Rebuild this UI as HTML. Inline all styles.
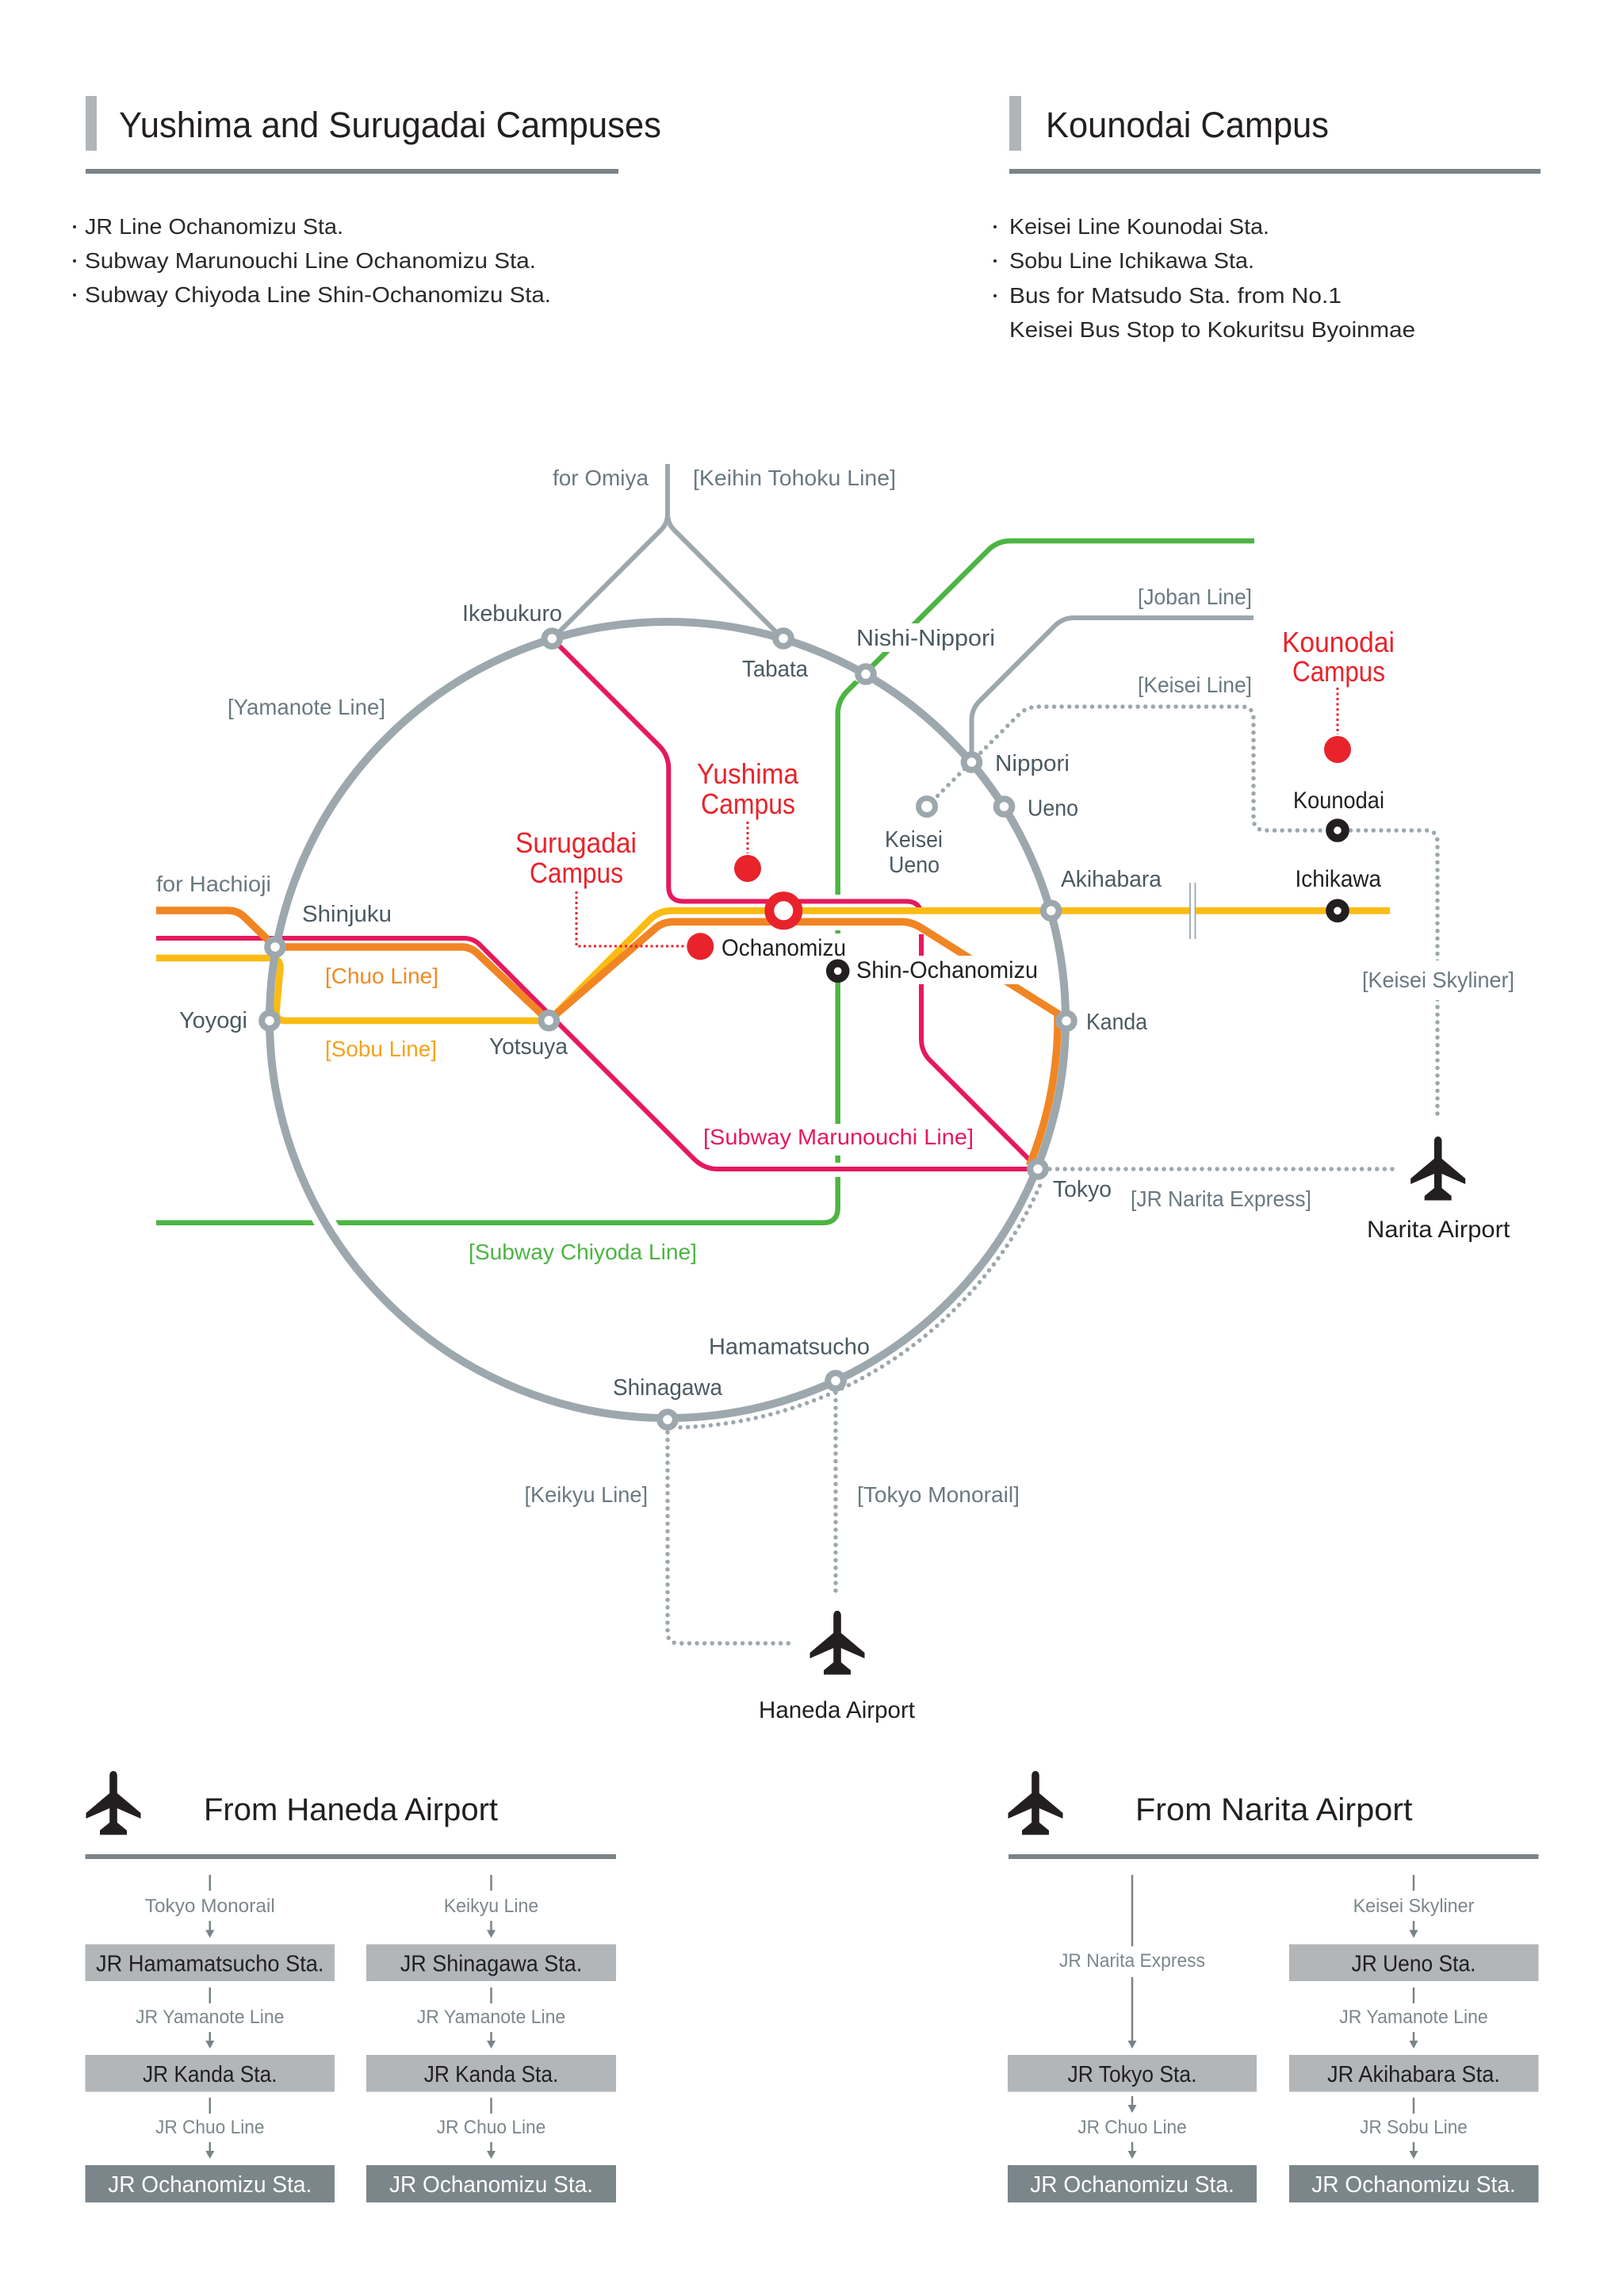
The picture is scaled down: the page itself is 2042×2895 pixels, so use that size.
<!DOCTYPE html>
<html><head><meta charset="utf-8">
<style>
html,body{margin:0;padding:0;background:#fff;}
svg{display:block;}
text{font-family:"Liberation Sans",sans-serif;}
.h1{font-size:45px;fill:#231f20;}
.b{font-size:28px;fill:#2a2a2a;}
.st{font-size:29px;fill:#4b5a61;}
.br{font-size:28px;fill:#6a7980;}
.rd{font-size:36px;fill:#e8232b;}
.bk{font-size:30px;fill:#231f20;}
.h2{font-size:40px;fill:#231f20;}
.bx{font-size:29px;fill:#231f20;}
.bw{font-size:29px;fill:#ffffff;}
.sm{font-size:24px;fill:#7d878c;}
.dot{fill:none;stroke:#9ca8ad;stroke-width:5.5;stroke-dasharray:0 9.6;stroke-linecap:round;}
.rdot{fill:none;stroke:#e8232b;stroke-width:3;stroke-dasharray:3 3.5;}
.gs{fill:#fff;stroke:#9ca8ad;stroke-width:8;}
.bs{fill:#fff;stroke:#231f20;stroke-width:10;}
.cn{stroke:#7a8488;stroke-width:2.5;fill:none;}
.ah{fill:#7a8488;}
</style></head>
<body>
<svg width="2042" height="2895" viewBox="0 0 2042 2895" xmlns="http://www.w3.org/2000/svg">
<defs>
<path id="plane" d="M0 0 C3 0 4.8 2.5 4.8 6 L4.8 28 L34.5 53 L34.5 60 L4.8 47 L4.8 65 L17 75 L17 80.5 L-17 80.5 L-17 75 L-4.8 65 L-4.8 47 L-34.5 60 L-34.5 53 L-4.8 28 L-4.8 6 C-4.8 2.5 -3 0 0 0 Z" fill="#231f20"/>
</defs>
<rect width="2042" height="2895" fill="#fff"/>

<!-- Headers -->
<rect x="108" y="121" width="14" height="69" fill="#b1b5b8"/>
<text x="150" y="173" class="h1" textLength="684" lengthAdjust="spacingAndGlyphs">Yushima and Surugadai Campuses</text>
<rect x="108" y="213" width="672" height="6" fill="#7a8488"/>
<rect x="1273" y="121" width="15" height="69" fill="#b1b5b8"/>
<text x="1319" y="173" class="h1" textLength="357" lengthAdjust="spacingAndGlyphs">Kounodai Campus</text>
<rect x="1273" y="213" width="670" height="6" fill="#7a8488"/>

<circle cx="94" cy="286" r="2" fill="#2a2a2a"/>
<circle cx="94" cy="329" r="2" fill="#2a2a2a"/>
<circle cx="94" cy="372" r="2" fill="#2a2a2a"/>
<text x="107" y="295" class="b" textLength="326" lengthAdjust="spacingAndGlyphs">JR Line Ochanomizu Sta.</text>
<text x="107" y="338" class="b" textLength="569" lengthAdjust="spacingAndGlyphs">Subway Marunouchi Line Ochanomizu Sta.</text>
<text x="107" y="381" class="b" textLength="588" lengthAdjust="spacingAndGlyphs">Subway Chiyoda Line Shin-Ochanomizu Sta.</text>

<circle cx="1255" cy="286" r="2" fill="#2a2a2a"/>
<circle cx="1255" cy="329" r="2" fill="#2a2a2a"/>
<circle cx="1255" cy="373" r="2" fill="#2a2a2a"/>
<text x="1273" y="295" class="b" textLength="328" lengthAdjust="spacingAndGlyphs">Keisei Line Kounodai Sta.</text>
<text x="1273" y="338" class="b" textLength="309" lengthAdjust="spacingAndGlyphs">Sobu Line Ichikawa Sta.</text>
<text x="1273" y="382" class="b" textLength="419" lengthAdjust="spacingAndGlyphs">Bus for Matsudo Sta. from No.1</text>
<text x="1273" y="425" class="b" textLength="512" lengthAdjust="spacingAndGlyphs">Keisei Bus Stop to Kokuritsu Byoinmae</text>

<!-- MAP -->
<path d="M1582 682 H1275 Q1258 682 1246 694 L1068.7 871.3 Q1056.7 883.3 1056.7 900 V1523 Q1056.7 1541.7 1038 1541.7 H197" fill="none" stroke="#4db543" stroke-width="6.5"/>
<circle cx="842" cy="1286" r="502" fill="none" stroke="#fff" stroke-width="26"/>
<rect x="1049" y="1128" width="15" height="45" fill="#fff"/>
<rect x="1049" y="1466" width="15" height="18" fill="#fff"/>

<path d="M842 585 V648 Q842 660 833.5 668.5 L696 806 M842 648 Q842 660 850.5 668.5 L988 806" fill="none" stroke="#9ca8ad" stroke-width="6"/>
<path d="M1225.5 961 V908 Q1225.5 894 1235.5 884 L1330.5 789 Q1340.5 779 1355 779 H1581" fill="none" stroke="#9ca8ad" stroke-width="6"/>

<path d="M197 1183 H585 Q597 1183 605.5 1191.5 L875 1461 Q888 1474 905 1474 H1309" fill="none" stroke="#e5195e" stroke-width="6"/>
<path d="M696 805 L831 940 Q843.3 952.3 843.3 969 V1118 Q843.3 1136.5 862 1136.5 H1143 Q1162 1136.5 1162 1156 V1310 Q1162 1326 1173 1337 L1309 1473" fill="none" stroke="#e5195e" stroke-width="6"/>
<rect x="1156" y="1152" width="12" height="26" fill="#fff"/>

<path d="M197 1208 H342 Q353 1208 353.5 1220 L348.5 1276 Q348.5 1287 360 1287 H692 L819 1160 Q830.7 1148.3 847 1148.3 H1753" fill="none" stroke="#fcbb13" stroke-width="8.6"/>
<path d="M197 1148 H288 Q300 1148 309 1157 L347 1194 H582 Q594 1194 603 1203 L692 1287 L826 1171 Q836 1162.3 850 1162.3 H1137 Q1150 1162.3 1162 1170 L1334 1278 A492 492 0 0 1 1298.4 1469.7" fill="none" stroke="#f18523" stroke-width="9.5"/>

<rect x="1502" y="1140" width="4.5" height="17" fill="#fff"/>
<line x1="1501" y1="1113" x2="1501" y2="1184" stroke="#9ca8ad" stroke-width="1.8"/>
<line x1="1507.5" y1="1113" x2="1507.5" y2="1184" stroke="#9ca8ad" stroke-width="1.8"/>

<circle cx="842" cy="1286" r="502" fill="none" stroke="#9ca8ad" stroke-width="10"/>

<path class="dot" d="M1169 1017 L1285 901 Q1295 891 1310 891 H1566 Q1581 891 1581 906 V1032 Q1581 1047 1596 1047 H1798 Q1813 1047 1813 1062 V1408"/>
<path class="dot" d="M1324 1474 H1756"/>
<path class="dot" d="M1311.6 1495.1 A514 514 0 0 1 857 1799.8"/>
<path class="dot" d="M842 1806 V2058 Q842 2072 856 2072 H999"/>
<path class="dot" d="M1054 1756 V2006"/>

<path class="rdot" d="M1687 867 V926"/>
<path class="rdot" d="M943 1036 V1076"/>
<path class="rdot" d="M727 1124 V1193 H866"/>

<!-- white label backgrounds -->
<rect x="1075" y="1205" width="238" height="36" fill="#fff"/>
<rect x="905" y="1177" width="166" height="33" fill="#fff"/>
<rect x="884" y="1417" width="348" height="40" fill="#fff"/>
<rect x="1714" y="1211" width="200" height="50" fill="#fff"/>
<rect x="1076" y="786" width="184" height="36" fill="#fff"/>

<!-- stations -->
<circle class="gs" cx="696.3" cy="805.2" r="9.8"/>
<circle class="gs" cx="988" cy="805" r="9.8"/>
<circle class="gs" cx="1092" cy="850" r="9.8"/>
<circle class="gs" cx="1225.5" cy="961" r="9.8"/>
<circle class="gs" cx="1266.5" cy="1017" r="9.8"/>
<circle class="gs" cx="1325.7" cy="1148.3" r="9.8"/>
<circle class="gs" cx="1345" cy="1287.3" r="9.8"/>
<circle class="gs" cx="1309" cy="1474" r="9.8"/>
<circle class="gs" cx="1054" cy="1741" r="9.8"/>
<circle class="gs" cx="842" cy="1790" r="9.8"/>
<circle class="gs" cx="340" cy="1287" r="9.8"/>
<circle class="gs" cx="347" cy="1194" r="9.8"/>
<circle class="gs" cx="692.3" cy="1286.7" r="9.8"/>
<circle class="gs" cx="1169" cy="1017" r="10.5" style="stroke-width:7"/>
<circle class="bs" cx="1687" cy="1047" r="9.8"/>
<circle class="bs" cx="1687" cy="1148.3" r="9.8"/>
<circle class="bs" cx="1056.7" cy="1224.3" r="9.8"/>
<circle cx="988.3" cy="1148.3" r="18" fill="#fff" stroke="#e8232b" stroke-width="12"/>

<circle cx="1687" cy="945" r="17" fill="#e8232b"/>
<circle cx="943" cy="1095" r="17" fill="#e8232b"/>
<circle cx="883.3" cy="1193.3" r="17" fill="#e8232b"/>

<use href="#plane" transform="translate(1813.7 1433)"/>
<use href="#plane" transform="translate(1056 2031)"/>
<use href="#plane" transform="translate(143 2233)"/>
<use href="#plane" transform="translate(1306 2233)"/>

<text x="697" y="612" class="br" textLength="121" lengthAdjust="spacingAndGlyphs">for Omiya</text>
<text x="874" y="612" class="br" textLength="256" lengthAdjust="spacingAndGlyphs">[Keihin Tohoku Line]</text>
<text x="583" y="783" class="st" textLength="126" lengthAdjust="spacingAndGlyphs">Ikebukuro</text>
<text x="936" y="853" class="st" textLength="83" lengthAdjust="spacingAndGlyphs">Tabata</text>
<text x="287" y="901" class="br" textLength="199" lengthAdjust="spacingAndGlyphs">[Yamanote Line]</text>
<text x="1080" y="814" class="st" textLength="175" lengthAdjust="spacingAndGlyphs">Nishi-Nippori</text>
<text x="1435" y="762" class="br" textLength="144" lengthAdjust="spacingAndGlyphs">[Joban Line]</text>
<text x="1435" y="873" class="br" textLength="144" lengthAdjust="spacingAndGlyphs">[Keisei Line]</text>
<text x="1617" y="822" class="rd" textLength="142" lengthAdjust="spacingAndGlyphs">Kounodai</text>
<text x="1630" y="859" class="rd" textLength="117" lengthAdjust="spacingAndGlyphs">Campus</text>
<text x="879" y="988" class="rd" textLength="128" lengthAdjust="spacingAndGlyphs">Yushima</text>
<text x="884" y="1026" class="rd" textLength="119" lengthAdjust="spacingAndGlyphs">Campus</text>
<text x="650" y="1075" class="rd" textLength="153" lengthAdjust="spacingAndGlyphs">Surugadai</text>
<text x="668" y="1113" class="rd" textLength="118" lengthAdjust="spacingAndGlyphs">Campus</text>
<text x="1255" y="972" class="st" textLength="94" lengthAdjust="spacingAndGlyphs">Nippori</text>
<text x="1296" y="1028.5" class="st" textLength="64" lengthAdjust="spacingAndGlyphs">Ueno</text>
<text x="1116" y="1068" class="st" textLength="73" lengthAdjust="spacingAndGlyphs">Keisei</text>
<text x="1121" y="1100" class="st" textLength="64" lengthAdjust="spacingAndGlyphs">Ueno</text>
<text x="1631" y="1019" class="bk" textLength="115" lengthAdjust="spacingAndGlyphs">Kounodai</text>
<text x="1338" y="1118" class="st" textLength="127" lengthAdjust="spacingAndGlyphs">Akihabara</text>
<text x="1633.5" y="1118" class="bk" textLength="108.5" lengthAdjust="spacingAndGlyphs">Ichikawa</text>
<text x="197" y="1124" class="br" textLength="145" lengthAdjust="spacingAndGlyphs">for Hachioji</text>
<text x="381" y="1162" class="st" textLength="113" lengthAdjust="spacingAndGlyphs">Shinjuku</text>
<text x="910" y="1205" class="bk" textLength="157" lengthAdjust="spacingAndGlyphs">Ochanomizu</text>
<text x="1080" y="1233" class="bk" textLength="229" lengthAdjust="spacingAndGlyphs">Shin-Ochanomizu</text>
<text x="410" y="1240" class="br" style="fill:#f08a24" textLength="143" lengthAdjust="spacingAndGlyphs">[Chuo Line]</text>
<text x="1718" y="1245" class="br" textLength="192" lengthAdjust="spacingAndGlyphs">[Keisei Skyliner]</text>
<text x="226" y="1296" class="st" textLength="86" lengthAdjust="spacingAndGlyphs">Yoyogi</text>
<text x="1370" y="1298" class="st" textLength="77" lengthAdjust="spacingAndGlyphs">Kanda</text>
<text x="617" y="1329" class="st" textLength="99" lengthAdjust="spacingAndGlyphs">Yotsuya</text>
<text x="410" y="1332" class="br" style="fill:#f5a21b" textLength="141" lengthAdjust="spacingAndGlyphs">[Sobu Line]</text>
<text x="887" y="1443" class="br" style="fill:#e5195e" textLength="341" lengthAdjust="spacingAndGlyphs">[Subway Marunouchi Line]</text>
<text x="1328" y="1509" class="st" textLength="74" lengthAdjust="spacingAndGlyphs">Tokyo</text>
<text x="1426" y="1521" class="br" textLength="228" lengthAdjust="spacingAndGlyphs">[JR Narita Express]</text>
<text x="1724" y="1560" class="bk" textLength="180.5" lengthAdjust="spacingAndGlyphs">Narita Airport</text>
<text x="591" y="1588" class="br" style="fill:#4db543" textLength="288" lengthAdjust="spacingAndGlyphs">[Subway Chiyoda Line]</text>
<text x="894" y="1707.5" class="st" textLength="203" lengthAdjust="spacingAndGlyphs">Hamamatsucho</text>
<text x="773" y="1759" class="st" textLength="138" lengthAdjust="spacingAndGlyphs">Shinagawa</text>
<text x="661.5" y="1894" class="br" textLength="155.5" lengthAdjust="spacingAndGlyphs">[Keikyu Line]</text>
<text x="1081" y="1894" class="br" textLength="205" lengthAdjust="spacingAndGlyphs">[Tokyo Monorail]</text>
<text x="957" y="2166" class="bk" textLength="197" lengthAdjust="spacingAndGlyphs">Haneda Airport</text>

<text x="257" y="2295" class="h2" textLength="371" lengthAdjust="spacingAndGlyphs">From Haneda Airport</text>
<rect x="107.5" y="2338" width="669.5" height="6" fill="#7a8488"/>
<text x="1432" y="2295" class="h2" textLength="349.5" lengthAdjust="spacingAndGlyphs">From Narita Airport</text>
<rect x="1272" y="2338" width="668.5" height="6" fill="#7a8488"/>

<g fill="#b2b6b9">
<rect x="107.5" y="2451.5" width="314.5" height="46.5"/>
<rect x="107.5" y="2591" width="314.5" height="46.5"/>
<rect x="462" y="2451.5" width="315" height="46.5"/>
<rect x="462" y="2591" width="315" height="46.5"/>
<rect x="1271" y="2591" width="314" height="46.5"/>
<rect x="1626" y="2451.5" width="314.5" height="46.5"/>
<rect x="1626" y="2591" width="314.5" height="46.5"/>
</g>
<g fill="#7b868a">
<rect x="107.5" y="2730" width="314.5" height="47"/>
<rect x="462" y="2730" width="315" height="47"/>
<rect x="1271" y="2730" width="314" height="47"/>
<rect x="1626" y="2730" width="314.5" height="47"/>
</g>

<g class="cn">
<path d="M264.75 2364 V2384 M264.75 2422 V2436 M264.75 2506 V2526 M264.75 2562 V2576 M264.75 2645 V2665 M264.75 2701 V2715"/>
<path d="M619.5 2364 V2384 M619.5 2422 V2436 M619.5 2506 V2526 M619.5 2562 V2576 M619.5 2645 V2665 M619.5 2701 V2715"/>
<path d="M1428 2364 V2454 M1428 2493 V2576 M1428 2643 V2657 M1428 2701 V2715"/>
<path d="M1783 2364 V2384 M1783 2422 V2436 M1783 2506 V2526 M1783 2562 V2576 M1783 2645 V2665 M1783 2701 V2715"/>
</g>
<g class="ah">
<path d="M259.25 2433.5 H270.25 L264.75 2443.5 Z M259.25 2573 H270.25 L264.75 2583 Z M259.25 2712 H270.25 L264.75 2722 Z"/>
<path d="M614 2433.5 H625 L619.5 2443.5 Z M614 2573 H625 L619.5 2583 Z M614 2712 H625 L619.5 2722 Z"/>
<path d="M1422.5 2573 H1433.5 L1428 2583 Z M1422.5 2654 H1433.5 L1428 2664 Z M1422.5 2712 H1433.5 L1428 2722 Z"/>
<path d="M1777.5 2433.5 H1788.5 L1783 2443.5 Z M1777.5 2573 H1788.5 L1783 2583 Z M1777.5 2712 H1788.5 L1783 2722 Z"/>
</g>

<g text-anchor="middle">
<text x="264.75" y="2411" class="sm" textLength="164" lengthAdjust="spacingAndGlyphs">Tokyo Monorail</text>
<text x="264.75" y="2551" class="sm" textLength="187.5" lengthAdjust="spacingAndGlyphs">JR Yamanote Line</text>
<text x="264.75" y="2690" class="sm" textLength="137.5" lengthAdjust="spacingAndGlyphs">JR Chuo Line</text>
<text x="619.5" y="2411" class="sm" textLength="119.6" lengthAdjust="spacingAndGlyphs">Keikyu Line</text>
<text x="619.5" y="2551" class="sm" textLength="187.5" lengthAdjust="spacingAndGlyphs">JR Yamanote Line</text>
<text x="619.5" y="2690" class="sm" textLength="137.5" lengthAdjust="spacingAndGlyphs">JR Chuo Line</text>
<text x="1428" y="2480" class="sm" textLength="184" lengthAdjust="spacingAndGlyphs">JR Narita Express</text>
<text x="1428" y="2690" class="sm" textLength="137.5" lengthAdjust="spacingAndGlyphs">JR Chuo Line</text>
<text x="1783" y="2411" class="sm" textLength="152.7" lengthAdjust="spacingAndGlyphs">Keisei Skyliner</text>
<text x="1783" y="2551" class="sm" textLength="187.5" lengthAdjust="spacingAndGlyphs">JR Yamanote Line</text>
<text x="1783" y="2690" class="sm" textLength="135.7" lengthAdjust="spacingAndGlyphs">JR Sobu Line</text>

<text x="264.75" y="2485.5" class="bx" textLength="287.5" lengthAdjust="spacingAndGlyphs">JR Hamamatsucho Sta.</text>
<text x="264.75" y="2625" class="bx" textLength="169.6" lengthAdjust="spacingAndGlyphs">JR Kanda Sta.</text>
<text x="264.75" y="2764" class="bw" textLength="257" lengthAdjust="spacingAndGlyphs">JR Ochanomizu Sta.</text>
<text x="619.5" y="2485.5" class="bx" textLength="229.5" lengthAdjust="spacingAndGlyphs">JR Shinagawa Sta.</text>
<text x="619.5" y="2625" class="bx" textLength="169.6" lengthAdjust="spacingAndGlyphs">JR Kanda Sta.</text>
<text x="619.5" y="2764" class="bw" textLength="257" lengthAdjust="spacingAndGlyphs">JR Ochanomizu Sta.</text>
<text x="1428" y="2625" class="bx" textLength="163" lengthAdjust="spacingAndGlyphs">JR Tokyo Sta.</text>
<text x="1428" y="2764" class="bw" textLength="257.5" lengthAdjust="spacingAndGlyphs">JR Ochanomizu Sta.</text>
<text x="1783" y="2485.5" class="bx" textLength="157" lengthAdjust="spacingAndGlyphs">JR Ueno Sta.</text>
<text x="1783" y="2625" class="bx" textLength="218" lengthAdjust="spacingAndGlyphs">JR Akihabara Sta.</text>
<text x="1783" y="2764" class="bw" textLength="257.5" lengthAdjust="spacingAndGlyphs">JR Ochanomizu Sta.</text>
</g>
</svg>
</body></html>
